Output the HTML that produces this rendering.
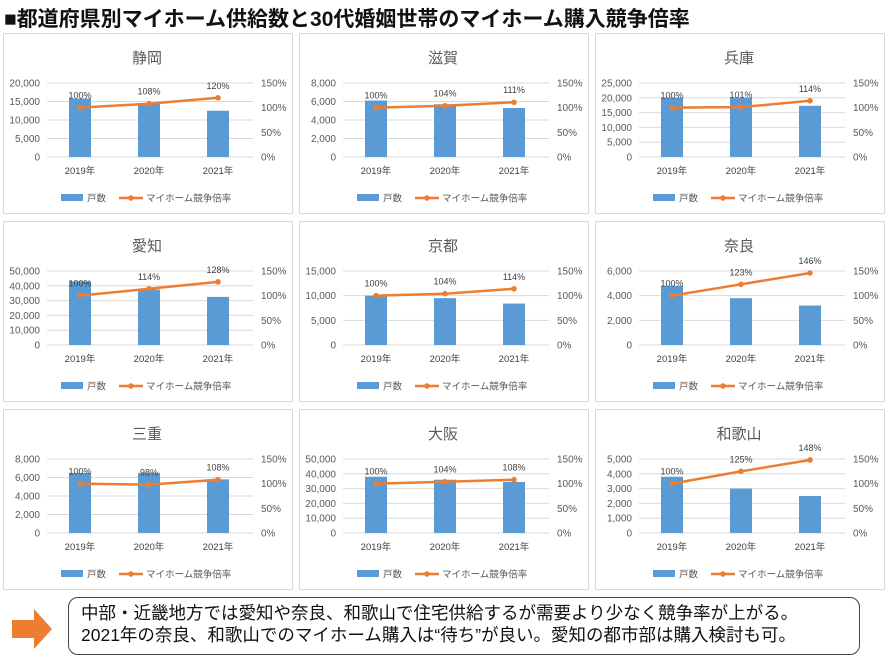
<!DOCTYPE html>
<html><head><meta charset="utf-8">
<style>
body{margin:0;width:887px;height:660px;background:#fff;overflow:hidden;font-family:"Liberation Sans","Noto Sans CJK JP",sans-serif;}
#t{position:absolute;left:4px;top:3px;font-size:21px;font-weight:bold;color:#111;white-space:nowrap;}
svg{position:absolute;left:0;top:0;}
#box{position:absolute;left:68px;top:597px;width:792px;height:58px;border:1.5px solid #444;border-radius:10px;box-sizing:border-box;font-size:17.5px;line-height:22px;padding:4px 0 0 12px;color:#111;white-space:nowrap;}
</style></head><body>
<div id="t">■都道府県別マイホーム供給数と30代婚姻世帯のマイホーム購入競争倍率</div>
<svg id="s" width="887" height="660" xmlns="http://www.w3.org/2000/svg"></svg>
<svg width="887" height="660" style="pointer-events:none"><polygon points="12,620 34,620 34,609 52,629 34,649 34,638 12,638" fill="#ED7D31"/></svg>
<div id="box">中部・近畿地方では愛知や奈良、和歌山で住宅供給するが需要より少なく競争率が上がる。<br>2021年の奈良、和歌山でのマイホーム購入は“待ち”が良い。愛知の都市部は購入検討も可。</div>
<script>
var P=[["静岡",20000,4,[15800,14400,12500],[100,108,120]],
["滋賀",8000,4,[6100,5700,5300],[100,104,111]],
["兵庫",25000,5,[20000,20000,17300],[100,101,114]],
["愛知",50000,5,[43000,37500,32500],[100,114,128]],
["京都",15000,3,[10000,9500,8400],[100,104,114]],
["奈良",6000,3,[4800,3800,3200],[100,123,146]],
["三重",8000,4,[6500,6500,5800],[100,98,108]],
["大阪",50000,5,[38000,36000,34500],[100,104,108]],
["和歌山",5000,5,[3800,3000,2500],[100,125,148]]];
var h='';
function f(n){return n.toLocaleString('en-US');}
P.forEach(function(p,i){
var ox=3+(i%3)*296, oy=33+Math.floor(i/3)*188;
h+='<rect x="'+(ox+0.5)+'" y="'+(oy+0.5)+'" width="289" height="180" fill="#fff" stroke="#d9d9d9"/>';
h+='<text x="'+(ox+144)+'" y="'+(oy+30)+'" font-size="15" fill="#595959" text-anchor="middle">'+p[0]+'</text>';
var x0=ox+44,x1=ox+250,yt=oy+50,yb=oy+124,H=yb-yt;
for(var k=0;k<=p[2];k++){var y=yb-H*k/p[2];
h+='<line x1="'+x0+'" x2="'+x1+'" y1="'+y+'" y2="'+y+'" stroke="#d9d9d9"/>';
h+='<text x="'+(x0-7)+'" y="'+(y+3.5)+'" font-size="10" fill="#595959" text-anchor="end">'+f(p[1]*k/p[2])+'</text>';}
for(k=0;k<=3;k++){var y=yb-H*k/3;h+='<text x="'+(x1+8)+'" y="'+(y+3.5)+'" font-size="10" fill="#595959">'+(k*50)+'%</text>';}
var cx=[ox+77,ox+146,ox+215],pts=[];
for(k=0;k<3;k++){var bh=H*p[3][k]/p[1];
h+='<rect x="'+(cx[k]-11)+'" y="'+(yb-bh)+'" width="22" height="'+bh+'" fill="#5B9BD5"/>';
h+='<text x="'+cx[k]+'" y="'+(yb+17)+'" font-size="9.5" fill="#404040" text-anchor="middle">'+(2019+k)+'年</text>';
pts.push([cx[k],yb-H*p[4][k]/150]);}
h+='<polyline points="'+pts.join(' ')+'" fill="none" stroke="#ED7D31" stroke-width="2.5"/>';
pts.forEach(function(q,k){h+='<circle cx="'+q[0]+'" cy="'+q[1]+'" r="2.8" fill="#ED7D31"/>';
h+='<text x="'+q[0]+'" y="'+(q[1]-9)+'" font-size="9" fill="#404040" text-anchor="middle">'+p[4][k]+'%</text>';});
var ly=oy+165;
h+='<rect x="'+(ox+58)+'" y="'+(ly-4)+'" width="22" height="7" fill="#5B9BD5"/>';
h+='<text x="'+(ox+84)+'" y="'+(ly+3.5)+'" font-size="9.5" fill="#595959">戸数</text>';
h+='<line x1="'+(ox+116)+'" x2="'+(ox+140)+'" y1="'+ly+'" y2="'+ly+'" stroke="#ED7D31" stroke-width="2.5"/><circle cx="'+(ox+128)+'" cy="'+ly+'" r="2.8" fill="#ED7D31"/>';
h+='<text x="'+(ox+143)+'" y="'+(ly+3.5)+'" font-size="9.5" fill="#595959">マイホーム競争倍率</text>';
});
document.getElementById('s').innerHTML=h;
</script>
</body></html>
